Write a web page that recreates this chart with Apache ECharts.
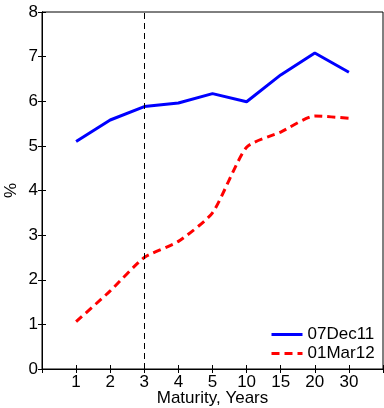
<!DOCTYPE html>
<html>
<head>
<meta charset="utf-8">
<script src="https://cdn.jsdelivr.net/npm/echarts@6/dist/echarts.min.js"></script>
<style>
  html, body { margin: 0; padding: 0; background: #fff; }
  #chart { width: 384px; height: 408px; }
</style>
</head>
<body>
<div id="chart"></div>
<script>
// maturities (years) shown on the x axis
var maturities = ['1', '2', '3', '4', '5', '10', '15', '20', '30'];
// yield curves, %
var dec11 = [5.10, 5.58, 5.88, 5.96, 6.17, 5.99, 6.59, 7.08, 6.65];
var mar12 = [1.06, 1.75, 2.50, 2.86, 3.50, 4.97, 5.31, 5.67, 5.62];
var markAt = 3; // dashed vertical line at 3y

var font = 'Liberation Sans, Arial, sans-serif';
var chart = echarts.init(document.getElementById('chart'));

function toPts(arr) {
  return arr.map(function (v, i) { return [i + 1, v]; });
}

var tick = { show: true, inside: true, length: 4, lineStyle: { color: '#000', width: 1 } };
var line = { show: true, lineStyle: { color: '#000', width: 1 } };

var option = {
  animation: false,
  grid: {
    left: 42, top: 12, right: 1, bottom: 39,
    outerBoundsMode: 'none', containLabel: false,
    show: true, borderColor: '#000', borderWidth: 1
  },
  legend: {
    left: 265, top: 321, orient: 'vertical',
    itemWidth: 31, itemHeight: 8, itemGap: 2,
    itemStyle: { opacity: 0 },
    lineStyle: { width: 3 },
    textStyle: { fontFamily: font, fontSize: 17, color: '#000' },
    data: ['07Dec11', '01Mar12']
  },
  xAxis: [{
    type: 'value', min: 0, max: 10, interval: 1,
    name: 'Maturity, Years', nameLocation: 'middle', nameGap: 21, nameMoveOverlap: false,
    nameTextStyle: { fontFamily: font, fontSize: 17, color: '#000' },
    axisLine: line, axisTick: tick,
    axisLabel: {
      fontFamily: font, fontSize: 17, color: '#000', margin: 5,
      formatter: function (v) { return maturities[v - 1] || ''; }
    },
    splitLine: { show: false }
  }, {
    type: 'value', min: 0, max: 10, interval: 1, position: 'top',
    axisLine: line, axisTick: tick,
    axisLabel: { show: false },
    splitLine: { show: false }
  }],
  yAxis: [{
    type: 'value', min: 0, max: 8, interval: 1,
    name: '%', nameLocation: 'middle', nameGap: 22, nameMoveOverlap: false,
    nameTextStyle: { fontFamily: font, fontSize: 17, color: '#000' },
    axisLine: line, axisTick: tick,
    axisLabel: { fontFamily: font, fontSize: 17, color: '#000', margin: 4 },
    splitLine: { show: false }
  }, {
    type: 'value', min: 0, max: 8, interval: 1, position: 'right',
    axisLine: line, axisTick: tick,
    axisLabel: { show: false },
    splitLine: { show: false }
  }],
  series: [{
    name: '07Dec11', type: 'line', symbol: 'none',
    data: toPts(dec11),
    lineStyle: { color: '#0000ff', width: 3 },
    itemStyle: { color: '#0000ff' },
    markLine: {
      silent: true, symbol: 'none', label: { show: false },
      lineStyle: { color: '#000', type: [6, 4], width: 1 },
      data: [{ xAxis: markAt }]
    }
  }, {
    name: '01Mar12', type: 'line', symbol: 'none', smooth: 0.2,
    data: toPts(mar12),
    lineStyle: { color: '#ff0000', width: 3, type: [8, 5] },
    itemStyle: { color: '#ff0000' }
  }, {
    // empty series so the top / right mirror axes get drawn
    name: 'frame', type: 'line', xAxisIndex: 1, yAxisIndex: 1, data: []
  }]
};
chart.setOption(option);
</script>
</body>
</html>
